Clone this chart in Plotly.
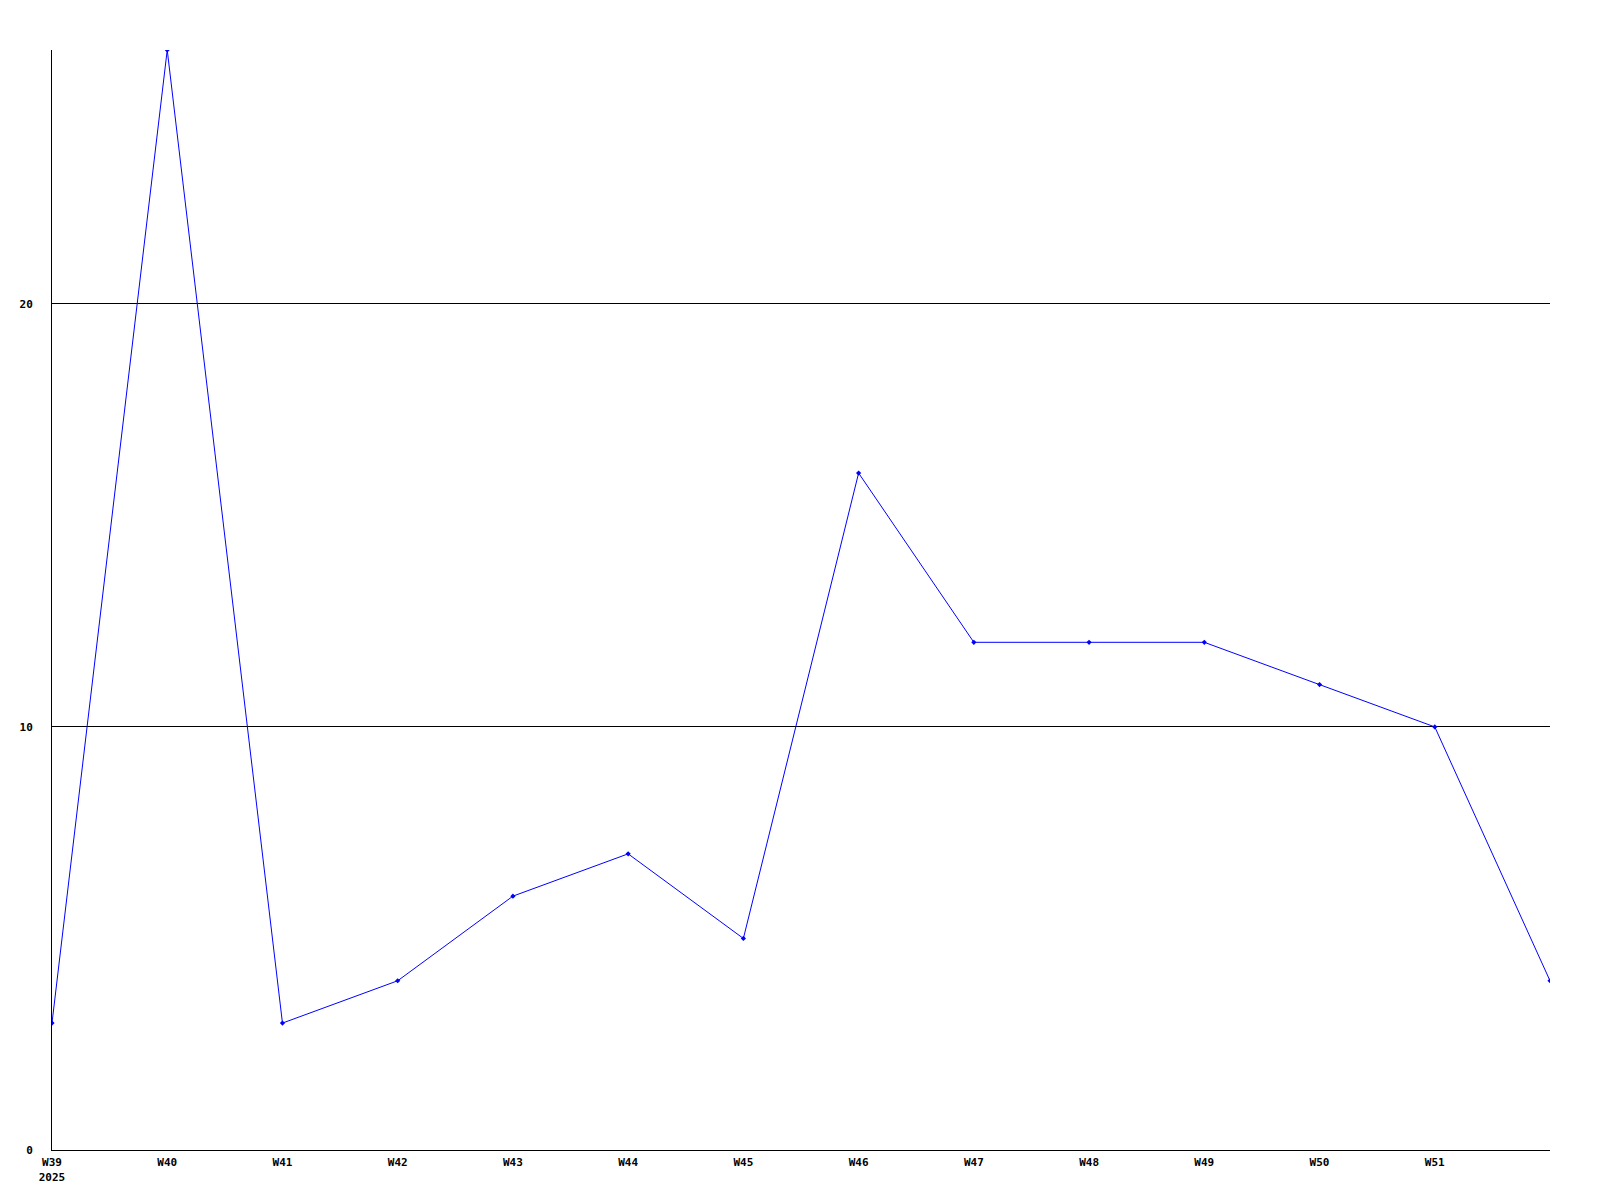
import plotly.graph_objects as go

weeks = ["W39", "W40", "W41", "W42", "W43", "W44", "W45", "W46", "W47", "W48", "W49", "W50", "W51", "W52"]
values = [3, 26, 3, 4, 6, 7, 5, 16, 12, 12, 12, 11, 10, 4]
tick_labels = ["W39<br>2025", "W40", "W41", "W42", "W43", "W44", "W45", "W46", "W47", "W48", "W49", "W50", "W51"]
y_ticks = [0, 10, 20]

x = list(range(len(weeks)))

fig = go.Figure()
fig.add_trace(go.Scatter(
    x=x, y=values, mode="lines+markers",
    line=dict(color="#0000FF", width=1),
    marker=dict(symbol="diamond", size=4, color="#0000FF"),
    hoverinfo="skip",
    showlegend=False,
))

font = dict(family="DejaVu Sans Mono", size=11, color="black", weight="bold")

fig.update_layout(
    width=1600, height=1200,
    margin=dict(l=41, r=58, t=42, b=58),
    paper_bgcolor="white", plot_bgcolor="white",
    xaxis=dict(
        range=[0, 13], tickvals=list(range(len(tick_labels))), ticktext=tick_labels,
        showgrid=False, zeroline=False, showline=True, linecolor="black", linewidth=1,
        ticks="", tickfont=font, ticklabelstandoff=2,
    ),
    yaxis=dict(
        range=[0, 26], tickvals=y_ticks,
        showgrid=True, gridcolor="black", gridwidth=1, zeroline=False,
        showline=True, linecolor="black", linewidth=1,
        ticks="", tickfont=font, ticklabelstandoff=16,
    ),
)

fig.write_html("out.html")
